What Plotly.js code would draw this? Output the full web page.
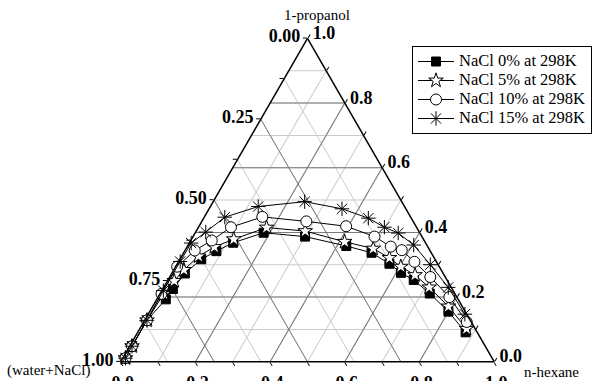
<!DOCTYPE html>
<html>
<head>
<meta charset="utf-8">
<script src="https://cdn.plot.ly/plotly-3.0.1.min.js"></script>
<style>
  html, body { margin: 0; padding: 0; background: #fff; }
  #chart { width: 592px; height: 381px; }
</style>
</head>
<body>
<div id="chart"></div>
<script>
// Liquid-liquid equilibrium binodal curves, (water+NaCl) / 1-propanol / n-hexane at 298 K.
// Mass fractions: a = 1-propanol, c = n-hexane, b = (water+NaCl) = 1 - a - c.

const seriesNames = ['NaCl 0% at 298K', 'NaCl 5% at 298K', 'NaCl 10% at 298K', 'NaCl 15% at 298K'];

const propanol0 = [0.011, 0.048, 0.128, 0.193, 0.225, 0.273, 0.317, 0.342, 0.368, 0.399, 0.387, 0.358, 0.337, 0.303, 0.275, 0.253, 0.211, 0.155, 0.091];
const hexane0   = [0.007, 0.006, 0.006, 0.024, 0.027, 0.035, 0.057, 0.085, 0.117, 0.183, 0.300, 0.425, 0.503, 0.568, 0.613, 0.658, 0.722, 0.800, 0.878];

const propanol5 = [0.011, 0.048, 0.128, 0.210, 0.250, 0.284, 0.326, 0.355, 0.379, 0.415, 0.404, 0.371, 0.350, 0.321, 0.294, 0.268, 0.230, 0.171, 0.102];
const hexane5   = [0.007, 0.006, 0.006, 0.010, 0.018, 0.027, 0.045, 0.073, 0.113, 0.183, 0.292, 0.414, 0.501, 0.559, 0.603, 0.654, 0.711, 0.792, 0.875];

const propanol10 = [0.011, 0.048, 0.128, 0.210, 0.294, 0.344, 0.375, 0.416, 0.448, 0.434, 0.419, 0.387, 0.356, 0.345, 0.309, 0.262, 0.200, 0.123];
const hexane10   = [0.007, 0.006, 0.006, 0.004, 0.004, 0.026, 0.056, 0.087, 0.155, 0.280, 0.394, 0.486, 0.545, 0.580, 0.632, 0.698, 0.780, 0.865];

const propanol15 = [0.011, 0.048, 0.128, 0.220, 0.310, 0.367, 0.401, 0.447, 0.480, 0.495, 0.473, 0.444, 0.416, 0.398, 0.361, 0.300, 0.230, 0.147];
const hexane15   = [0.007, 0.006, 0.006, 0.004, 0.004, 0.005, 0.027, 0.055, 0.128, 0.245, 0.356, 0.441, 0.498, 0.544, 0.604, 0.679, 0.762, 0.848];

// Tick values as read along each edge
const leftTicks   = [0, 0.125, 0.25, 0.375, 0.5, 0.625, 0.75, 0.875, 1];   // (water+NaCl), left edge
const bottomTicks = [0, 0.1, 0.2, 0.3, 0.4, 0.5, 0.6, 0.7, 0.8, 0.9, 1];   // n-hexane, bottom edge
const rightTicks  = [0, 0.1, 0.2, 0.3, 0.4, 0.5, 0.6, 0.7, 0.8, 0.9, 1];   // 1-propanol, right edge

const serif = 'Liberation Serif, Times New Roman, serif';

const styles = [
  { symbol: 'square', size: 9, color: '#000', line: { color: '#000', width: 1 } },
  { symbol: 'star', size: 11, color: '#fff', line: { color: '#000', width: 1 } },
  { symbol: 'circle', size: 11, color: '#fff', line: { color: '#000', width: 1 } },
  { symbol: 'asterisk-open', size: 12, color: '#000', line: { color: '#000', width: 1 } }
];
const propanolSets = [propanol0, propanol5, propanol10, propanol15];
const hexaneSets = [hexane0, hexane5, hexane10, hexane15];

const traces = seriesNames.map((name, i) => ({
  type: 'scatterternary',
  subplot: 'ternary3',
  mode: 'lines+markers',
  name: '<span style="font-size:16.5px">' + name + '</span>',
  a: propanolSets[i],
  c: hexaneSets[i],
  b: propanolSets[i].map((p, k) => 1 - p - hexaneSets[i][k]),
  line: { color: '#000', width: 1 },
  marker: styles[i],
  cliponaxis: false
}));

// empty traces so the two gridline-only ternaries get drawn
['ternary', 'ternary2'].forEach(id => traces.unshift({
  type: 'scatterternary', subplot: id, a: [], b: [], c: [],
  mode: 'markers', showlegend: false, hoverinfo: 'skip'
}));

const isMultiple = (v, step) => Math.abs(v / step - Math.round(v / step)) < 1e-6;

const dom = { x: [121 / 592, 495 / 592], y: [0.0449, 0.9049] };
const noTitle = { text: ' ' };

// Gridline helper: a ternary that only draws gridlines at the given values
function gridTernary(aVals, bVals, cVals, color, bg) {
  const ax = vals => ({
    tickmode: 'array', tickvals: vals, showticklabels: false, ticks: '',
    showgrid: true, gridcolor: color, gridwidth: 1, showline: false, min: 0, title: noTitle
  });
  return { domain: dom, bgcolor: bg, sum: 1, aaxis: ax(aVals), baxis: ax(bVals), caxis: ax(cVals) };
}

const aGrid = rightTicks;                                   // constant 1-propanol (horizontal)
const bGrid = leftTicks;                                    // constant water+NaCl
const cGrid = bottomTicks;                                  // constant n-hexane
const aGridMajor = aGrid.filter(v => isMultiple(v, 0.2));
const bGridMajor = bGrid.filter(v => isMultiple(v, 0.25));
const cGridMajor = cGrid.filter(v => isMultiple(v, 0.2));

const tickFont = { family: serif, size: 18, color: '#000', weight: 'bold' };
const labelAxis = (vals, texts) => ({
  tickmode: 'array', tickvals: vals, ticktext: texts,
  ticks: 'outside', ticklen: 4, tickwidth: 1, tickcolor: '#000',
  showticklabels: true, tickfont: tickFont,
  showgrid: false, showline: true, linecolor: '#000', linewidth: 1.5, min: 0, title: noTitle
});

const titleFont = { family: serif, size: 15, color: '#000' };

const layout = {
  width: 592, height: 381,
  margin: { l: 0, r: 0, t: 0, b: 0 },
  paper_bgcolor: '#fff',
  showlegend: true,
  ternary: gridTernary(aGrid, bGrid, cGrid, '#cbcbcb', '#fff'),
  ternary2: gridTernary(aGridMajor, bGridMajor, cGridMajor, '#7a7a7a', 'rgba(0,0,0,0)'),
  ternary3: {
    domain: dom, bgcolor: 'rgba(0,0,0,0)', sum: 1,
    // left edge reads (water+NaCl): position a = 1 - w
    aaxis: labelAxis(leftTicks.map(w => 1 - w), leftTicks.map(w => isMultiple(w, 0.25) ? w.toFixed(2) : '')),
    // bottom edge reads n-hexane: position b = 1 - h
    baxis: labelAxis(bottomTicks.map(h => 1 - h), bottomTicks.map(h => isMultiple(h, 0.2) ? h.toFixed(1) : '')),
    // right edge reads 1-propanol: position c = 1 - p
    caxis: labelAxis(rightTicks.map(p => 1 - p), rightTicks.map(p => isMultiple(p, 0.2) ? p.toFixed(1) : ''))
  },
  legend: {
    x: 413 / 592, y: 1 - 46 / 381, xanchor: 'left', yanchor: 'top',
    bgcolor: '#fff', bordercolor: '#000', borderwidth: 1,
    font: { family: serif, size: 12, color: '#000' },
    itemwidth: 36, tracegroupgap: 0
  },
  annotations: [
    { text: '1-propanol', xref: 'paper', yref: 'paper', x: 318 / 592, y: 1 - 15 / 381, showarrow: false,
      xanchor: 'center', yanchor: 'middle', font: titleFont },
    { text: '(water+NaCl)', xref: 'paper', yref: 'paper', x: 49 / 592, y: 1 - 370 / 381, showarrow: false,
      xanchor: 'center', yanchor: 'middle', font: titleFont },
    { text: 'n-hexane', xref: 'paper', yref: 'paper', x: 552 / 592, y: 1 - 372 / 381, showarrow: false,
      xanchor: 'center', yanchor: 'middle', font: titleFont }
  ]
};

Plotly.newPlot('chart', traces, layout, { staticPlot: true, displayModeBar: false });
</script>
</body>
</html>
